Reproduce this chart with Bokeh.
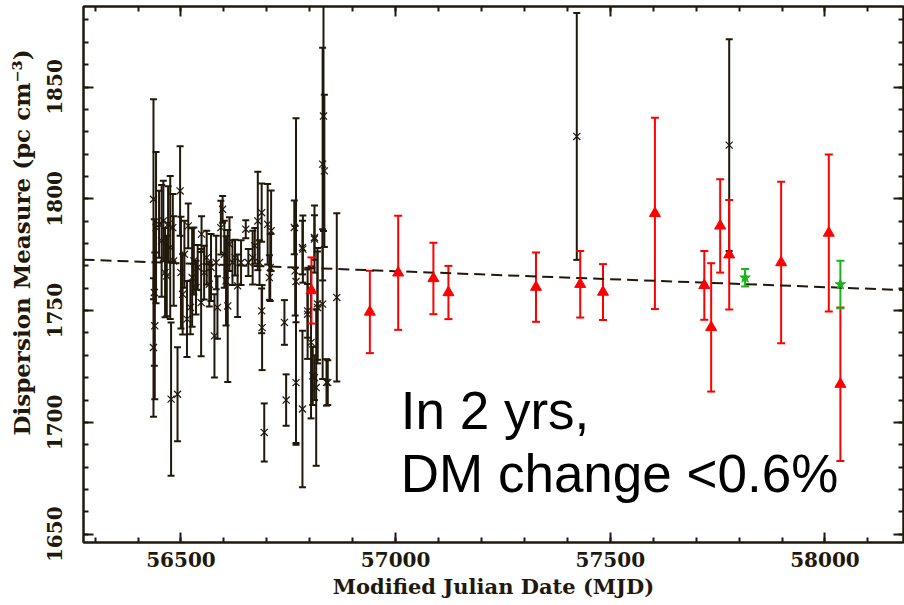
from bokeh.plotting import figure
from bokeh.models import (ColumnDataSource, Whisker, TeeHead, LinearAxis,
                          SingleIntervalTicker, Range1d, Label, CustomJSTickFormatter)
from bokeh.embed import file_html
from bokeh.resources import INLINE

# ---- data ----
blk_mjd = [56436, 56438, 56439, 56436, 56442, 56449, 56455, 56459, 56463, 56467,
           56470, 56475, 56477, 56481, 56483, 56492, 56498, 56500, 56504, 56508,
           56514, 56517, 56522, 56526, 56530, 56535, 56539, 56547, 56548, 56554,
           56560, 56566, 56570, 56578, 56582, 56585, 56593, 56597, 56601, 56605,
           56609, 56613, 56620, 56626, 56632, 56640, 56651, 56657, 56667, 56672,
           56679, 56683, 56688, 56688, 56689, 56694, 56702, 56706, 56710, 56708,
           56741, 56745, 56764, 56766, 56768, 56783, 56783, 56795, 56807, 56811,
           56815, 56818, 56842, 56768, 56784, 56795, 56803, 56811, 56811, 56818,
           56830, 56832, 56834, 56830, 56839, 56863, 57422, 57777]
blk_dm = [1799.8, 1758.1, 1743.2, 1733.5, 1787.1, 1788.6, 1781.2, 1790.1, 1767.0, 1765.5,
          1788.6, 1778.2, 1710.4, 1787.1, 1772.2, 1712.6, 1803.5, 1767.0, 1757.3, 1775.2,
          1746.2, 1787.9, 1751.4, 1764.8, 1772.2, 1760.3, 1769.3, 1753.6, 1784.2, 1767.0,
          1773.7, 1761.8, 1769.3, 1738.7, 1771.5, 1751.4, 1787.1, 1795.3, 1775.2, 1763.3,
          1752.1, 1779.7, 1771.5, 1773.7, 1761.1, 1771.5, 1786.4, 1771.5, 1773.7, 1779.0,
          1790.1, 1771.5, 1793.8, 1749.9, 1742.4, 1695.5, 1788.6, 1764.8, 1785.7, 1769.3,
          1744.7, 1710.0, 1787.2, 1767.8, 1717.8, 1706.0, 1778.2, 1749.9, 1720.8, 1782.7,
          1715.6, 1751.4, 1717.8, 1763.0, 1777.5, 1748.4, 1735.8, 1782.0, 1720.0, 1753.0,
          1815.5, 1837.0, 1812.5, 1752.9, 1717.9, 1755.9, 1827.9, 1824.0]
blk_err = [44.7, 32.8, 32.8, 31.0, 33.8, 15, 25, 18, 20, 18,
           17, 32, 34.3, 15, 20, 21, 20, 25, 18, 15,
           17, 10, 12, 22, 15, 12, 10, 24, 8, 12,
           12, 10, 15, 18.6, 12, 14, 12, 6, 15, 20,
           34, 12, 10, 8, 14, 10, 4, 6, 12, 8,
           22, 10, 13, 10, 19, 13, 18, 10, 18, 15,
           10, 11.5, 12, 20, 27, 35, 12, 12, 13, 10,
           35, 25, 10, 73, 15, 20, 34, 15, 10, 25,
           52, 51.4, 34, 33.5, 10.4, 37.6, 55.2, 47.3]

red_mjd = [56804, 56940, 57006, 57088, 57123, 57327, 57430, 57483,
           57604, 57719, 57735, 57756, 57777, 57898, 58009, 58036]
red_dm = [1759.0, 1749.4, 1766.9, 1764.4, 1758.1, 1760.5, 1761.8, 1758.3,
          1793.5, 1761.3, 1742.5, 1787.9, 1775.0, 1771.5, 1784.7, 1717.1]
red_err = [14.8, 18.4, 25.5, 16.0, 11.9, 15.5, 14.9, 12.5,
           42.8, 15.4, 28.7, 20.9, 24.5, 36.1, 35.1, 34.3]

grn_mjd = [57814, 58036]
grn_dm = [1764.7, 1761.7]
grn_err = [3.9, 10.6]

fit_mjd = [56273, 58183]
fit_dm = [1772.8, 1759.2]

x_ticks_major = 500
y_ticks_major = 50

BLACK = "#21180c"
RED = "#ff0000"
GREEN = "#19b419"
AXFONT = "DejaVu Serif"


def src(xs, ys, es):
    return ColumnDataSource(dict(x=xs, y=ys,
                                 lo=[a - b for a, b in zip(ys, es)],
                                 hi=[a + b for a, b in zip(ys, es)]))


p = figure(width=904, height=605, output_backend="svg", toolbar_location=None,
           x_range=Range1d(56273, 58183), y_range=Range1d(1646.3, 1886),
           min_border_left=83, min_border_right=1, min_border_top=6,
           min_border_bottom=63, x_axis_location=None, y_axis_location=None)
p.grid.visible = False
p.outline_line_color = BLACK
p.outline_line_width = 2
p.background_fill_color = "white"
p.border_fill_color = "white"

xt = SingleIntervalTicker(interval=x_ticks_major, num_minor_ticks=5)
yt = SingleIntervalTicker(interval=y_ticks_major, num_minor_ticks=5)


def style(ax, show):
    ax.axis_line_color = BLACK
    ax.axis_line_width = 2
    ax.major_tick_line_color = BLACK
    ax.minor_tick_line_color = BLACK
    ax.major_tick_line_width = 2
    ax.minor_tick_line_width = 2
    ax.major_tick_in = 10
    ax.major_tick_out = 0
    ax.minor_tick_in = 5
    ax.minor_tick_out = 0
    if not show:
        ax.formatter = CustomJSTickFormatter(code="return ''")
        ax.major_label_standoff = 0
        ax.axis_label = None
    else:
        ax.major_label_text_font = AXFONT
        ax.major_label_text_font_size = "20px"
        ax.major_label_text_font_style = "bold"
        ax.major_label_text_color = BLACK
        ax.axis_label_text_font = AXFONT
        ax.axis_label_text_font_size = "21px"
        ax.axis_label_text_font_style = "bold"
        ax.axis_label_text_color = BLACK


xb = LinearAxis(ticker=xt, axis_label="Modified Julian Date (MJD)")
style(xb, True)
xb.major_label_standoff = 9
xb.axis_label_standoff = 4
p.add_layout(xb, "below")

NB = "\u00a0"
yl = LinearAxis(ticker=yt, axis_label=NB * 8 + "Dispersion Measure (pc cm\u207b\u00b3)")
style(yl, True)
yl.axis_label_text_font_size = "23px"
yl.major_label_orientation = "vertical"
yl.major_label_standoff = 21
yl.axis_label_standoff = 10
p.add_layout(yl, "left")

xa = LinearAxis(ticker=xt)
style(xa, False)
p.add_layout(xa, "above")
yr = LinearAxis(ticker=yt)
style(yr, False)
p.add_layout(yr, "right")

# fit line
p.line(fit_mjd, fit_dm, line_color=BLACK, line_width=2, line_dash="11 6")


def draw(xs, ys, es, color, marker, size, cap):
    s = src(xs, ys, es)
    w = Whisker(source=s, base="x", lower="lo", upper="hi", dimension="height",
                line_color=color, line_width=2,
                lower_head=TeeHead(size=cap, line_color=color, line_width=2),
                upper_head=TeeHead(size=cap, line_color=color, line_width=2))
    p.add_layout(w)
    if marker == "x":
        p.scatter("x", "y", source=s, marker="x", size=size, line_color=color,
                  line_width=1.2)
    else:
        p.scatter("x", "y", source=s, marker=marker, size=size, line_color=color,
                  fill_color=color, line_width=1)


draw(blk_mjd, blk_dm, blk_err, BLACK, "x", 10, 7)
draw(red_mjd, red_dm, red_err, RED, "triangle", 11, 8)
draw(grn_mjd, grn_dm, grn_err, GREEN, "star", 11, 8)

p.add_layout(Label(x=57012, y=1705.2, text="In 2 yrs,", text_font="Liberation Sans",
                   text_font_size="53px", text_color="black",
                   text_baseline="alphabetic"))
p.add_layout(Label(x=57012, y=1677.0, text="DM change <0.6%", text_font="Liberation Sans",
                   text_font_size="53px", text_color="black",
                   text_baseline="alphabetic"))

open("out.html", "w").write(file_html(p, INLINE))
